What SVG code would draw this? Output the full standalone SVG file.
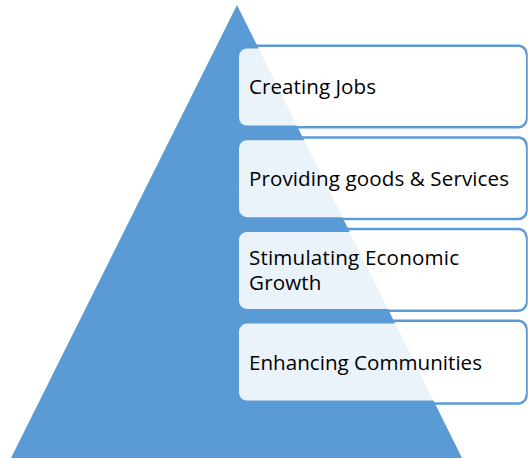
<svg xmlns="http://www.w3.org/2000/svg" width="528" height="459" viewBox="0 0 528 459">
<style>
.edge{fill:none;stroke:#5B9BD5;stroke-width:2.5}
.box{fill:#FFFFFF;fill-opacity:0.88}
.lbl{font-family:"Open Sans","Liberation Sans",sans-serif;font-size:20.6px;fill:#000000}
</style>
<rect width="528" height="459" fill="#FFFFFF"/>
<g id="pyramid">
<polygon points="237,5 11,458 462,458" fill="#5B9BD5"/>
</g>
<g id="connectors"></g>
<g id="node1">
<rect class="edge" x="242" y="45.7" width="284.5" height="81.6" rx="8"/>
<rect class="box" x="239" y="48.5" width="287" height="77" rx="8"/>
<text class="lbl" x="249" y="94" textLength="127" lengthAdjust="spacing">Creating Jobs</text>
</g>
<g id="node2">
<rect class="edge" x="242" y="137.4" width="284.5" height="81.6" rx="8"/>
<rect class="box" x="239" y="140.2" width="287" height="77" rx="8"/>
<text class="lbl" x="249" y="185.5" textLength="260" lengthAdjust="spacing">Providing goods &amp; Services</text>
</g>
<g id="node3">
<rect class="edge" x="242" y="229.1" width="284.5" height="81.6" rx="8"/>
<rect class="box" x="239" y="231.9" width="287" height="77" rx="8"/>
<text class="lbl"><tspan x="249" y="265" textLength="210" lengthAdjust="spacing">Stimulating Economic</tspan><tspan x="249" y="289.5" textLength="72.5" lengthAdjust="spacing">Growth</tspan></text>
</g>
<g id="node4">
<rect class="edge" x="242" y="320.8" width="284.5" height="82.6" rx="8"/>
<rect class="box" x="239" y="323.6" width="287" height="77" rx="8"/>
<text class="lbl" x="249" y="369.5" textLength="233" lengthAdjust="spacing">Enhancing Communities</text>
</g>
</svg>
